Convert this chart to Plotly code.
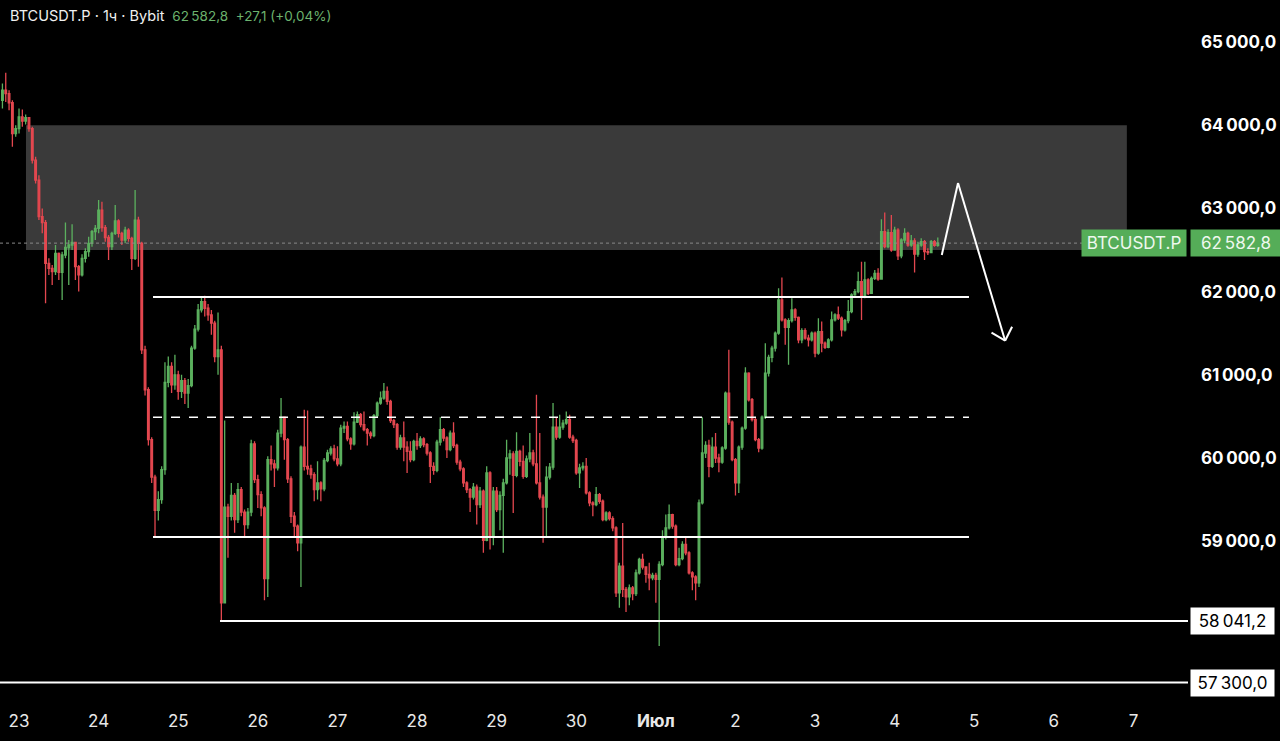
import pandas as pd
import plotly.graph_objects as go

# ---------------- DATA ----------------
start_time = "2024-06-22 19:00"
first_open = 64300

closes = [
    64420, 64380, 64270, 63900, 63960, 64100, 64050, 64090, 63960, 63580,
    63340, 62900, 62830, 62340, 62280, 62240, 62460, 62230, 62440, 62530,
    62560, 62590, 62300, 62200, 62400, 62480, 62580, 62720, 62760, 62980,
    62770, 62650, 62540, 62700, 62850, 62700, 62620, 62740, 62640, 62400,
    62860, 62580, 61300, 60820, 60220, 59770, 59370, 59500, 59860, 60910,
    61100, 60880, 61000, 60800, 60930, 60780, 60870, 61320, 61550, 61780,
    61880, 61800, 61720, 61620, 61220, 61300, 58260, 59410, 59300, 59550,
    59260, 59620, 59350, 59200, 59350, 60170, 59740, 59560, 59400, 58550,
    59980, 59930, 59880, 60300, 60490, 60220, 59750, 59300, 59180, 58980,
    60130, 59900, 59870, 59800, 59620, 59700, 59630, 59970, 60060, 60110,
    59990, 59930, 60360, 60380, 60230, 60170, 60430, 60520, 60400, 60340,
    60300, 60270, 60510, 60660, 60720, 60800, 60680, 60450, 60400, 60130,
    60240, 60130, 60080, 59980, 60200, 60150, 60230, 60160, 60060, 59900,
    59850, 60190, 60340, 60240, 60100, 60300, 60150, 59950, 59870, 59700,
    59620, 59530, 59650, 59440, 59600, 59010, 59820, 59050, 59600, 59380,
    59550, 59700, 60000, 60050, 59790, 60080, 59960, 59780, 59990, 60060,
    59930, 59700, 59530, 59410, 59770, 59890, 60370, 60250, 60370, 60420,
    60460, 60250, 60210, 59820, 59880, 59900, 59580, 59460, 59440, 59560,
    59480, 59260, 59340, 59270, 59160, 58380, 58700, 58420, 58330, 58440,
    58370, 58620, 58780, 58690, 58600, 58560, 58590, 58540, 58720, 59050,
    59160, 59320, 59180, 58720, 58790, 58960, 58860, 58620, 58570, 58500,
    59460, 60060, 60150, 59900, 60130, 60000, 59950, 60120, 60780, 60430,
    59980, 59700, 60130, 60360, 61020, 60700, 60460, 60220, 60120, 60490,
    61020, 61210, 61320, 61500, 61900, 61660, 61570, 61650, 61780, 61690,
    61420, 61530, 61440, 61420, 61500, 61260, 61520, 61380, 61330, 61420,
    61660, 61720, 61680, 61540, 61650, 61760, 61960, 62000, 62120, 61940,
    62140, 61980, 62160, 62220, 62150, 62720, 62540, 62710, 62500, 62740,
    62430, 62620, 62700, 62560, 62610, 62450, 62560, 62600, 62480, 62470,
    62600, 62555.7, 62582.8,
]

highs = [
    64500, 64630, 64420, 64300, 64000, 64200, 64190, 64130, 64100, 63980,
    63620, 63400, 63000, 62860, 62400, 62320, 62560, 62470, 62480, 62830,
    62620, 62810, 62600, 62320, 62450, 62520, 62660, 62740, 62800, 63100,
    63080, 62800, 62680, 62720, 63040, 62870, 62720, 62780, 62760, 62660,
    63220, 62900, 62600, 61350, 60850, 60250, 59800, 59600, 59900, 61150,
    61220, 61150, 61240, 61050, 61000, 60960, 60950, 61350, 61600, 61850,
    61930, 61950, 61850, 61780, 61650, 61750, 61350, 60450, 59450, 59700,
    59580, 59700, 59650, 59380, 59400, 60220, 60200, 59800, 59600, 59420,
    60020, 60150, 59980, 60340, 60720, 60500, 60240, 59780, 59350, 59200,
    60150, 60580, 60570, 59920, 59830, 59960, 59720, 60000, 60100, 60140,
    60160, 60140, 60400, 60440, 60440, 60250, 60550, 60560, 60540, 60560,
    60360, 60320, 60530, 60680, 60800, 60900, 60860, 60700, 60470, 60420,
    60280, 60440, 60200, 60200, 60220, 60300, 60260, 60250, 60180, 60080,
    59950, 60220, 60490, 60360, 60260, 60330, 60430, 60170, 59980, 59890,
    59720, 59640, 59700, 59680, 59650, 59620, 59900, 59840, 59650, 59650,
    59600, 59750, 60220, 60100, 60080, 60310, 60100, 60150, 60030, 60300,
    60100, 60760, 60300, 59560, 59900, 59940, 60660, 60480, 60520, 60460,
    60560, 60520, 60280, 60230, 59930, 59950, 60000, 59600, 59480, 59650,
    59580, 59500, 59360, 59360, 59300, 59180, 58740, 59220, 58450, 58480,
    58460, 58660, 58800, 58850, 58700, 58740, 58620, 58620, 58760, 59130,
    59320, 59440, 59330, 59200, 58920, 59000, 59040, 58880, 58640, 58590,
    59500, 60490, 60200, 60220, 60250, 60300, 60050, 60140, 60800, 61300,
    60450, 60000, 60150, 60380, 61090, 61030, 60720, 60480, 60240, 60510,
    61380, 61240, 61350, 61520, 62040, 62170, 61680, 61680, 61920, 61800,
    61700, 61560, 61560, 61480, 61520, 61520, 61680, 61640, 61400, 61440,
    61760, 61740, 61820, 61700, 61670, 61900, 61980, 62030, 62240, 62360,
    62360, 62160, 62180, 62260, 62280, 62870, 62950, 62750, 62920, 62780,
    62760, 62640, 62760, 62720, 62680, 62640, 62600, 62640, 62620, 62520,
    62620, 62620, 62650,
]

lows = [
    64200, 64280, 64180, 63740, 63860, 63900, 63980, 64010, 63920, 63540,
    63300, 62860, 62700, 61860, 62200, 62080, 62200, 62140, 61900, 62400,
    62080, 62500, 62140, 62000, 62180, 62350, 62420, 62540, 62620, 62700,
    62720, 62600, 62380, 62500, 62680, 62650, 62560, 62580, 62600, 62260,
    62380, 62300, 61250, 60750, 60150, 59700, 59050, 59250, 59450, 59800,
    60850, 60780, 60820, 60700, 60720, 60650, 60600, 60850, 61300, 61520,
    61750, 61700, 61650, 61480, 61150, 61000, 58041.2, 58250, 58800, 59250,
    59100, 59220, 59300, 59050, 59150, 59300, 59700, 59400, 59300, 58290,
    58330, 59850, 59650, 59850, 60250, 59980, 59700, 59220, 59050, 58880,
    58450, 59850, 59800, 59750, 59480, 59500, 59480, 59600, 59950, 60030,
    59960, 59900, 59900, 60300, 60200, 60100, 60150, 60420, 60370, 60320,
    60150, 60230, 60250, 60480, 60640, 60700, 60640, 60420, 60360, 60100,
    60100, 59960, 59820, 59950, 59960, 60100, 60120, 60130, 60030, 59700,
    59800, 59830, 60150, 60200, 60000, 60080, 60120, 59920, 59840, 59650,
    59580, 59350, 59500, 59200, 59400, 58860, 59000, 58900, 58950, 59350,
    59130, 58860, 59680, 59800, 59340, 59770, 59900, 59750, 59760, 59950,
    59900, 59680, 59500, 58980, 59050, 59740, 59860, 60220, 60230, 60340,
    60400, 60230, 60180, 59800, 59640, 59850, 59560, 59420, 59300, 59420,
    59450, 59240, 59240, 59250, 59120, 58330, 58200, 58330, 58150, 58230,
    58290, 58340, 58600, 58660, 58500, 58410, 58530, 58260, 57740, 58700,
    59020, 59140, 59150, 58700, 58700, 58770, 58830, 58600, 58410, 58290,
    58450, 59440, 60000, 59770, 59880, 59940, 59830, 59930, 60100, 60400,
    59960, 59550, 59580, 60100, 60340, 60680, 60440, 60200, 60070, 60100,
    60470, 60980, 61150, 61280, 61480, 61640, 61360, 61120, 61630, 61650,
    61380, 61380, 61420, 61340, 61400, 61210, 61240, 61270, 61310, 61320,
    61400, 61640, 61660, 61460, 61520, 61620, 61740, 61950, 61980, 61660,
    61920, 61960, 61980, 62140, 62130, 62150, 62520, 62520, 62480, 62490,
    62380, 62400, 62580, 62540, 62540, 62230, 62420, 62540, 62380, 62440,
    62460, 62540, 62540,
]

last_price = 62582.8
range_lines = [61935, 59050]          # solid range borders
range_mid = 60490                      # dashed middle of range
range_span = ["2024-06-24 16:24", "2024-07-04 22:24"]
support_level = 58041.2
support_start = "2024-06-25 12:36"
low_level = 57300.0
zone_low, zone_high = 62500, 64000
zone_span = ["2024-06-23 02:06", "2024-07-06 22:00"]
arrow_x = ["2024-07-04 14:12", "2024-07-04 19:06", "2024-07-05 09:18"]
arrow_y = [62440, 63305, 61410]
arrow_head_x = ["2024-07-05 05:12", "2024-07-05 11:24"]
arrow_head_y = [61506, 61578]

y_ticks = [59000, 60000, 61000, 62000, 63000, 64000, 65000]
day_ticks = pd.date_range("2024-06-23", "2024-07-07", freq="D")
day_labels = ["23", "24", "25", "26", "27", "28", "29", "30", "<b>Июл</b>",
              "2", "3", "4", "5", "6", "7"]
x_range = ["2024-06-22 18:16", "2024-07-07 16:26"]
y_range = [57043, 65505]

# ---------------- BUILD ----------------
n = min(len(closes), len(highs), len(lows))
closes, highs, lows = closes[:n], highs[:n], lows[:n]
opens = [first_open] + closes[:-1]
highs = [max(h, o, c) for h, o, c in zip(highs, opens, closes)]
lows = [min(l, o, c) for l, o, c in zip(lows, opens, closes)]
times = pd.date_range(start_time, periods=n, freq="h")


def fmt(v):
    s = f"{v:,.1f}".replace(",", "\u202f").replace(".", ",")
    return s


GREEN = "#5bb05e"
RED = "#e3474f"
FONT = "Inter"

fig = go.Figure()
fig.add_trace(go.Candlestick(
    x=times, open=opens, high=highs, low=lows, close=closes,
    increasing=dict(line=dict(color=GREEN, width=1.3), fillcolor=GREEN),
    decreasing=dict(line=dict(color=RED, width=1.3), fillcolor=RED),
    whiskerwidth=0, hoverinfo="skip", showlegend=False,
))

shapes = []
shapes.append(dict(type="rect", xref="x", yref="y", x0=zone_span[0], x1=zone_span[1],
                   y0=zone_low, y1=zone_high, fillcolor="#3a3a3a", line=dict(width=0),
                   layer="below"))
shapes.append(dict(type="line", xref="paper", yref="y", x0=0, x1=1082 / 1188,
                   y0=last_price, y1=last_price, line=dict(color="#8a8a8a", width=1, dash="dot")))
for lv in range_lines:
    shapes.append(dict(type="line", xref="x", yref="y", x0=range_span[0], x1=range_span[1],
                       y0=lv, y1=lv, line=dict(color="white", width=2)))
shapes.append(dict(type="line", xref="x", yref="y", x0=range_span[0], x1=range_span[1],
                   y0=range_mid, y1=range_mid, line=dict(color="white", width=1.3, dash="dash")))
shapes.append(dict(type="line", xref="x", yref="y", x0=support_start, x1=x_range[1],
                   y0=support_level, y1=support_level, line=dict(color="white", width=2)))
shapes.append(dict(type="line", xref="paper", yref="y", x0=0, x1=1,
                   y0=low_level, y1=low_level, line=dict(color="white", width=2)))
for i in range(len(arrow_x) - 1):
    shapes.append(dict(type="line", xref="x", yref="y", x0=arrow_x[i], x1=arrow_x[i + 1],
                       y0=arrow_y[i], y1=arrow_y[i + 1], line=dict(color="white", width=2)))
for hx, hy in zip(arrow_head_x, arrow_head_y):
    shapes.append(dict(type="line", xref="x", yref="y", x0=hx, x1=arrow_x[-1],
                       y0=hy, y1=arrow_y[-1], line=dict(color="white", width=2)))

annotations = [
    dict(xref="paper", yref="paper", x=8 / 1188, y=1 - 15 / 704, xanchor="left", yanchor="middle",
         showarrow=False,
         text=("BTCUSDT.P · 1ч · Bybit <span style='color:#6cb36e;font-size:13.5px'> "
               + fmt(last_price) + "  +27,1 (+0,04%)</span>"),
         font=dict(family=FONT, size=14.5, color="#f0f0f0")),
    dict(xref="paper", yref="y", x=1.0, y=last_price, xanchor="right", yanchor="middle",
         xshift=-1, showarrow=False, text="BTCUSDT.P", bgcolor="#55ad58", borderpad=3,
         width=98, align="center", font=dict(family=FONT, size=17, color="#eef8ee")),
    dict(xref="paper", yref="y", x=1.0, y=last_price, xanchor="left", yanchor="middle",
         xshift=2, showarrow=False, text=fmt(last_price), bgcolor="#55ad58", borderpad=3,
         width=84, align="center", font=dict(family=FONT, size=17, color="#eef8ee")),
    dict(xref="paper", yref="y", x=1.0, y=support_level, xanchor="left", yanchor="middle",
         xshift=2, showarrow=False, text=fmt(support_level), bgcolor="white", borderpad=3,
         width=77, align="center", font=dict(family=FONT, size=17, color="black")),
    dict(xref="paper", yref="y", x=1.0, y=low_level, xanchor="left", yanchor="middle",
         xshift=2, showarrow=False, text=fmt(low_level), bgcolor="white", borderpad=3,
         width=77, align="center", font=dict(family=FONT, size=17, color="black")),
]

fig.update_layout(
    width=1280, height=741,
    margin=dict(l=0, r=92, t=0, b=37),
    paper_bgcolor="black", plot_bgcolor="black",
    shapes=shapes, annotations=annotations,
    showlegend=False, hovermode=False,
    xaxis=dict(range=x_range, type="date", rangeslider=dict(visible=False),
               showgrid=False, zeroline=False, showline=False, ticks="",
               tickvals=list(day_ticks), ticktext=day_labels,
               tickfont=dict(family=FONT, size=17, color="#e8e8e8"),
               ticklabelstandoff=5, fixedrange=True),
    yaxis=dict(range=y_range, side="right", showgrid=False, zeroline=False, showline=False,
               ticks="", tickvals=y_ticks, ticktext=[fmt(v) for v in y_ticks],
               tickfont=dict(family=FONT, size=17, color="white", weight=700),
               ticklabelstandoff=12, fixedrange=True),
)

fig.write_html("out.html", post_script="document.body.style.margin='0';",
               config={"displayModeBar": False})
